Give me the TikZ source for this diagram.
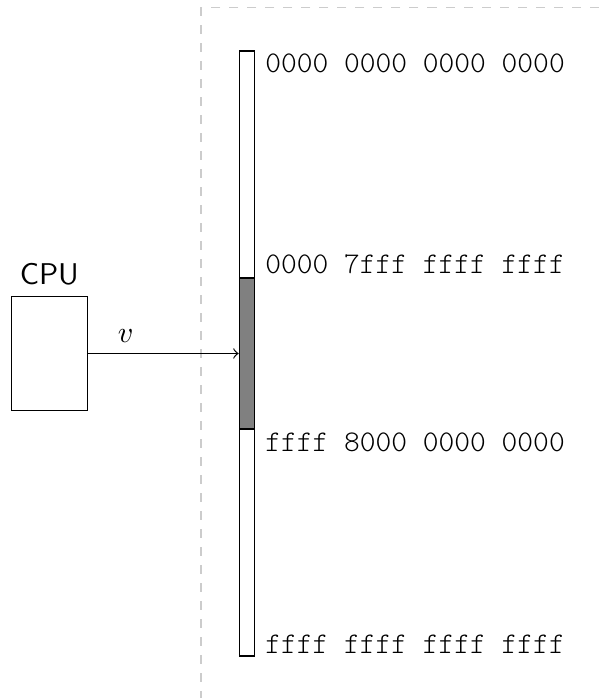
\documentclass[tikz,border=0pt]{standalone}
\usepackage{fontspec}
\setmonofont{Latin Modern Mono Light}
\usetikzlibrary{positioning}
\begin{document}
\begin{tikzpicture}[
  cpubox/.style={draw, minimum width=0.89cm, minimum height=1.33cm},
  addr/.style={font=\ttfamily, inner ysep=1pt}
]
  \useasboundingbox (0,0) rectangle (7.088,-8.177);
  \clip (0,0) rectangle (7.088,-8.177);
  \draw[gray!40, dashed] (2.355,-0.086) rectangle (8,-9);

  \node[cpubox, label={[font=\sffamily]above:CPU}] (cpu) at (0.578,-4.141) {};
  \node[draw, inner sep=0, minimum width=0.176cm, minimum height=7.088cm] (mem) at (2.891,-4.141) {};
  \node[draw, fill=gray, inner sep=0, minimum width=0.176cm, minimum height=1.769cm] (seg) at (mem.center) {};

  % adressen
  \node[addr, anchor=north west] at (mem.north east) {0000 0000 0000 0000};
  \node[addr, anchor=south west] at (seg.north east) {0000 7fff ffff ffff};
  \node[addr, anchor=north west] at (seg.south east) {ffff 8000 0000 0000};
  \node[addr, anchor=south west] at (mem.south east) {ffff ffff ffff ffff};

  \draw[->] (cpu) -- node[pos=0.25, above] {$v$} (seg);
\end{tikzpicture}
\end{document}
